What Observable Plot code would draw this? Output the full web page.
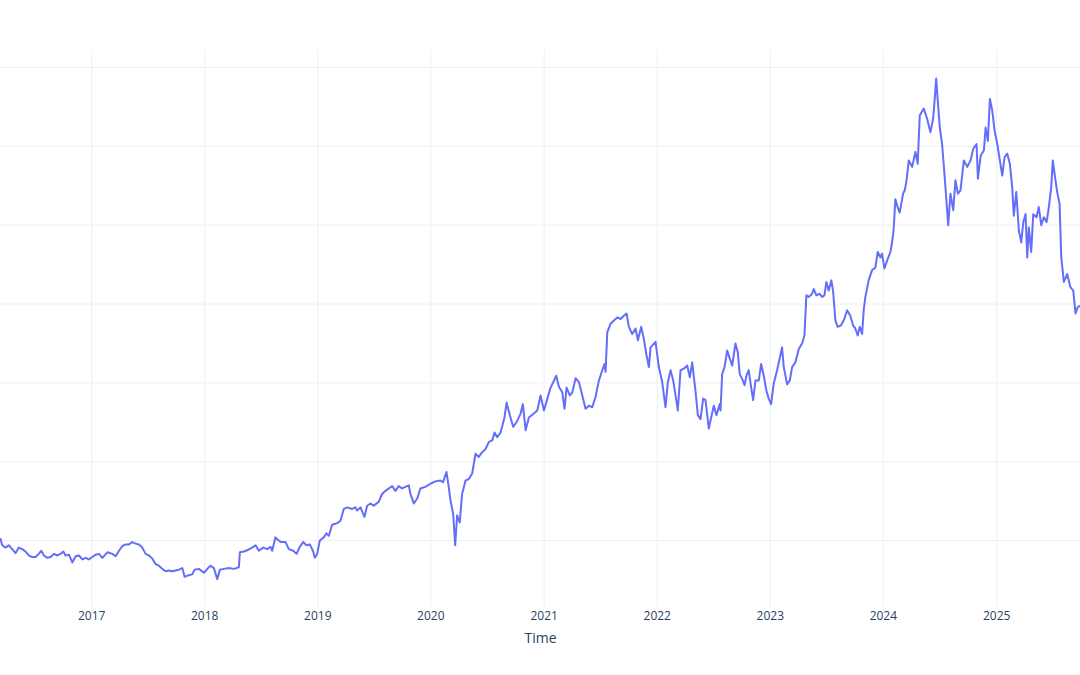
<!DOCTYPE html>
<html><head><meta charset="utf-8">
<script src="https://cdn.jsdelivr.net/npm/d3@7"></script>
<script src="https://cdn.jsdelivr.net/npm/@observablehq/plot@0.6"></script>
<style>html,body{margin:0;padding:0;background:#fff;} #chart{width:1080px;height:675px;}</style>
</head><body><div id="chart"></div>
<script>
// Time as decimal years
const years = [
2016.196,2016.211,2016.240,2016.269,2016.299,2016.329,2016.358,2016.388,2016.417,2016.446,
2016.476,2016.505,2016.534,2016.556,2016.579,2016.609,2016.638,2016.667,2016.697,2016.726,
2016.750,2016.770,2016.800,2016.830,2016.859,2016.888,2016.918,2016.947,2016.976,2017.006,
2017.036,2017.065,2017.095,2017.139,2017.183,2017.212,2017.242,2017.272,2017.301,2017.330,
2017.360,2017.389,2017.418,2017.448,2017.477,2017.507,2017.537,2017.566,2017.595,2017.625,
2017.654,2017.683,2017.713,2017.743,2017.772,
2017.802,2017.822,2017.860,2017.890,2017.910,2017.949,2017.993,2018.023,2018.052,2018.081,
2018.111,2018.134,2018.169,2018.213,2018.258,2018.302,2018.311,2018.346,2018.382,2018.420,
2018.450,2018.479,2018.518,2018.553,2018.582,2018.597,2018.626,2018.647,2018.671,2018.715,
2018.744,2018.783,2018.812,2018.841,2018.871,2018.900,2018.930,2018.960,2018.974,2018.995,
2019.018,2019.053,2019.077,2019.098,2019.127,2019.172,2019.201,2019.230,2019.260,2019.304,
2019.334,2019.348,2019.378,2019.413,2019.437,2019.466,
2019.495,2019.539,2019.569,2019.599,2019.628,2019.658,2019.687,2019.716,2019.746,2019.775,
2019.805,2019.820,2019.849,2019.879,2019.908,2019.952,2019.996,2020.040,2020.085,2020.108,
2020.138,2020.158,2020.173,2020.197,2020.215,2020.232,2020.255,2020.276,2020.306,2020.335,
2020.365,2020.394,2020.423,2020.453,2020.483,2020.512,2020.542,2020.562,2020.586,2020.615,
2020.650,2020.668,2020.697,2020.727,2020.763,2020.792,2020.812,2020.836,2020.865,2020.909,
2020.939,2020.968,2020.998,2021.028,2021.057,2021.081,2021.107,
2021.130,2021.160,2021.180,2021.198,2021.227,2021.249,2021.278,2021.307,2021.337,2021.366,
2021.395,2021.425,2021.454,2021.484,2021.514,2021.534,2021.543,2021.558,2021.587,2021.617,
2021.647,2021.676,2021.705,2021.729,2021.749,2021.779,2021.808,2021.829,2021.858,2021.881,
2021.905,2021.926,2021.941,2021.985,2022.014,2022.044,2022.073,2022.094,2022.118,2022.141,
2022.162,2022.182,2022.206,2022.235,2022.265,2022.288,2022.309,2022.338,2022.359,2022.383,
2022.406,2022.427,2022.456,2022.477,2022.500,2022.524,2022.553,2022.560,2022.574,2022.595,
2022.619,2022.641,2022.663,2022.692,2022.712,2022.730,2022.751,2022.772,2022.789,2022.809,
2022.831,2022.848,2022.869,2022.898,2022.919,2022.942,2022.966,2022.986,2023.007,2023.030,
2023.060,2023.089,2023.104,2023.119,2023.149,2023.172,2023.193,2023.222,2023.252,2023.281,
2023.302,2023.319,2023.340,2023.370,2023.384,2023.408,2023.437,2023.458,2023.479,2023.496,
2023.517,2023.540,2023.555,2023.576,2023.596,2023.626,2023.655,2023.679,2023.708,2023.732,
2023.752,2023.773,2023.791,2023.812,2023.826,2023.841,2023.870,2023.900,2023.929,2023.950,
2023.974,2023.988,2024.009,2024.033,2024.062,2024.077,2024.091,2024.106,2024.126,2024.144,
2024.174,2024.188,2024.203,2024.224,2024.254,2024.283,2024.303,2024.321,2024.356,2024.386,
2024.415,2024.439,2024.451,2024.466,2024.480,2024.498,2024.518,2024.533,2024.554,2024.572,
2024.592,2024.616,2024.636,2024.657,2024.680,2024.710,2024.740,2024.769,2024.793,2024.822,
2024.834,2024.858,2024.887,2024.902,2024.922,2024.940,2024.961,2024.981,2025.005,2025.028,
2025.049,2025.069,2025.093,2025.116,2025.137,2025.151,2025.173,2025.196,2025.217,2025.235,
2025.255,2025.270,2025.284,2025.305,2025.323,2025.352,2025.372,2025.394,2025.417,2025.441,
2025.461,2025.482,2025.496,2025.514,2025.535,2025.556,2025.571,2025.594,2025.623,2025.653,
2025.677,2025.697,2025.717,2025.741
];
const values = [
102,94,91,94,89,84,91,89,86,81,
79,79,83,87,81,78,79,83,81,83,
86,81,82,72,80,81,76,78,76,79,
82,83,78,85,83,80,87,93,95,95,
98,96,95,91,83,81,77,70,68,64,
61,62,61,62,63,
65,54,56,57,63,64,59,64,68,65,
51,63,64,65,64,66,85,86,88,91,
94,87,91,89,92,87,104,101,98,98,
89,87,83,92,98,94,95,86,78,83,
100,104,109,106,120,122,125,140,142,140,
142,138,142,130,144,147,
144,149,159,163,166,169,163,169,166,168,
170,159,147,153,166,168,172,175,176,174,
187,168,151,134,94,132,123,159,176,178,
185,210,206,212,216,225,227,237,231,237,
256,275,259,244,252,261,273,240,256,261,
265,284,265,280,294,301,309,
295,288,267,294,284,288,306,301,284,267,
271,269,282,303,316,324,314,364,375,379,
383,381,385,388,371,362,369,354,371,356,
335,320,345,352,320,301,269,301,316,303,
284,265,316,318,322,307,326,290,259,254,
280,278,242,256,271,259,273,265,311,320,
341,331,322,350,339,311,305,297,309,316,
294,278,303,303,324,309,290,280,273,299,
316,335,345,320,298,303,320,326,343,350,
360,411,409,413,419,411,413,409,411,428,
417,430,417,379,371,373,381,392,385,373,
369,360,371,362,392,409,430,443,446,466,
459,464,445,455,466,478,495,533,523,516,
540,544,555,582,574,593,578,639,648,635,
618,635,656,686,658,624,603,576,536,500,
540,519,557,540,544,582,574,582,597,603,
559,588,595,624,607,660,645,620,603,582,
563,586,591,578,548,512,542,493,478,504,
514,459,497,466,514,510,523,500,510,504,
523,548,582,563,542,527,459,428,438,421,
417,388,396,398
];
const tickYears = [2017,2018,2019,2020,2021,2022,2023,2024,2025];
const gridValues = [100,200,300,400,500,600,700];
const xTitle = "Time";
const xStart = 2016.196, xEnd = 2025.741;
const yMin = 15, yMax = 721.6;

function toDate(y) {
  const yr = Math.floor(y);
  const s = Date.UTC(yr, 0, 1), e = Date.UTC(yr + 1, 0, 1);
  return new Date(s + (y - yr) * (e - s));
}
const data = years.map((y, i) => ({date: toDate(y), value: values[i]}));
const tickDates = tickYears.map(y => new Date(Date.UTC(y, 0, 1)));

const chart = Plot.plot({
  width: 1080, height: 675,
  marginTop: 50, marginBottom: 68, marginLeft: 0, marginRight: 0,
  style: {fontFamily: '"Open Sans", sans-serif', fontSize: "12px", color: "#2a3f5f", background: "#fff", overflow: "visible"},
  x: {type: "utc", domain: [toDate(xStart), toDate(xEnd)], axis: null},
  y: {domain: [yMin, yMax], axis: null},
  marks: [
    Plot.gridY(gridValues, {stroke: "#EBF0F8", strokeOpacity: 1, strokeWidth: 1}),
    Plot.gridX(tickDates, {stroke: "#EBF0F8", strokeOpacity: 1, strokeWidth: 1}),
    Plot.axisX(tickDates, {tickSize: 0, tickPadding: 4, tickFormat: d3.utcFormat("%Y"), label: null, fill: "#2a3f5f", fontSize: 12}),
    Plot.line(data, {x: "date", y: "value", stroke: "#636efa", strokeWidth: 2}),
    Plot.text([xTitle], {frameAnchor: "bottom", dy: 35, fontSize: 14, fill: "#2a3f5f"})
  ]
});
document.getElementById("chart").appendChild(chart);
</script>
</body></html>
